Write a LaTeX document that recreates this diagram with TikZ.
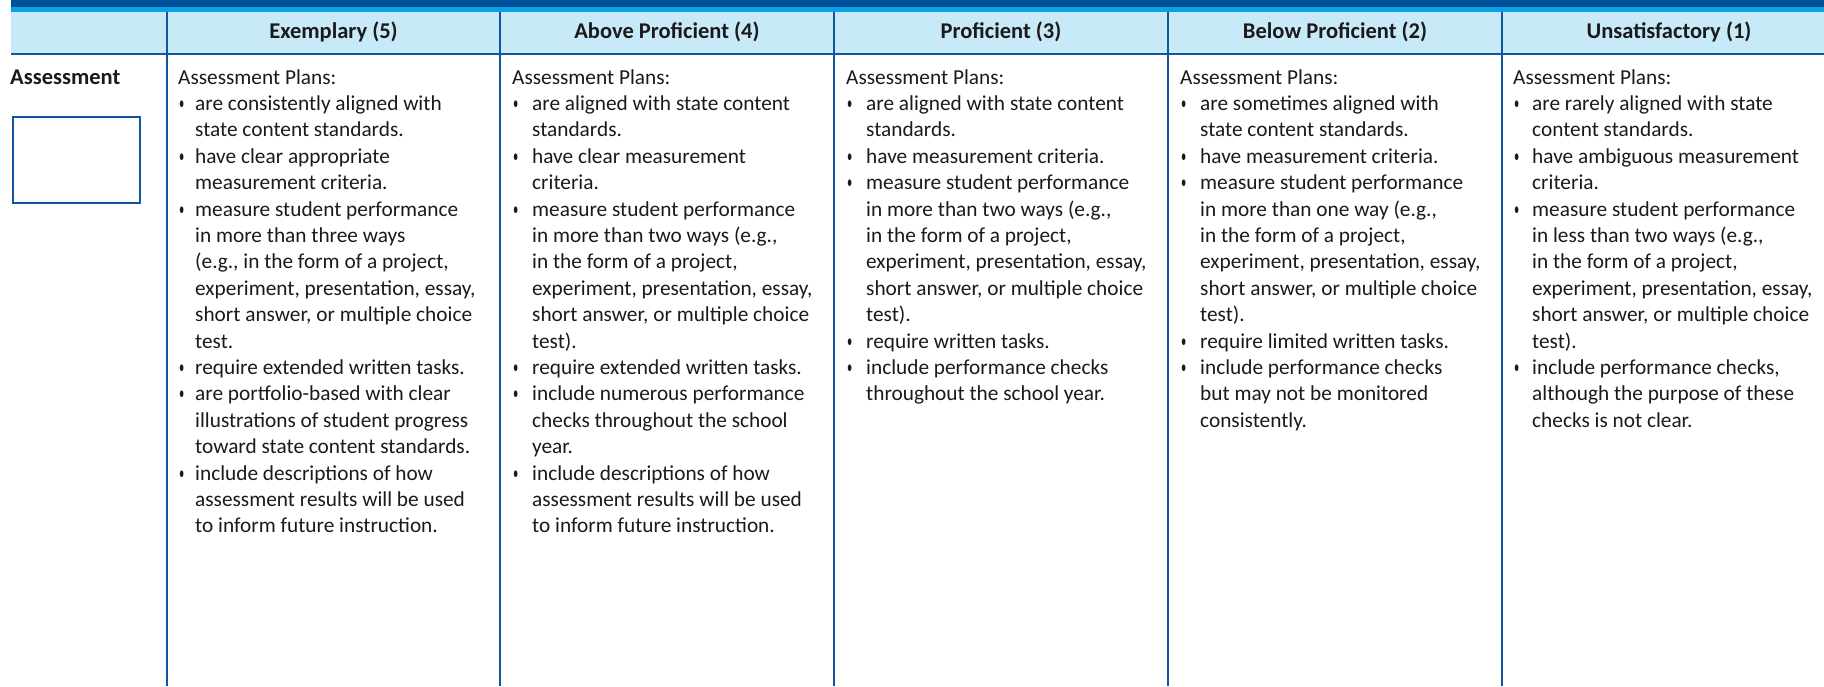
\documentclass[tikz,border=0pt]{standalone}
\usepackage{fontspec}
\setmainfont{Carlito}
\definecolor{topbar}{HTML}{00519A}
\definecolor{topstrip}{HTML}{0BA1E2}
\definecolor{headfill}{HTML}{C8E9F8}
\definecolor{rulecol}{HTML}{1057A3}
\definecolor{inkcol}{HTML}{1A1A1A}
\newlength\bulw
\setlength\bulw{20pt}
\newcommand\bulglyph{{\fontsize{15}{15}\selectfont\raisebox{1pt}{\scalebox{0.7}[1.25]{•}}}}
\newcommand\PL[1]{\hbox{#1}}
\newcommand\BL[1]{\hbox{\hbox to \bulw{\hskip1pt\bulglyph\hss}#1}}
\newcommand\CL[1]{\hbox{\hskip\bulw #1}}
\newcommand\colbody[1]{\vtop{\baselineskip=26.4pt\lineskiplimit=-100pt\lineskip=0pt #1}}
\begin{document}
\begin{tikzpicture}[x=1pt,y=-1pt,
  bodytext/.style={anchor=base west,inner sep=0pt,text=inkcol,font=\fontsize{21.3}{26.4}\selectfont},
  headtext/.style={anchor=center,inner sep=0pt,text=inkcol,font=\fontsize{22.5}{26}\selectfont\bfseries},
  rowlabel/.style={anchor=base west,inner sep=0pt,text=inkcol,font=\fontsize{22.5}{26}\selectfont\bfseries},
  divider/.style={draw=rulecol,line width=2pt},
  smallbox/.style={draw=rulecol,line width=2.5pt}]
\useasboundingbox (0,0) rectangle (1824,686);
% header band
\fill[headfill] (11,11) rectangle (1824,53);
\fill[topbar] (11,0) rectangle (1824,6.5);
\fill[topstrip] (11,6.5) rectangle (1824,11.5);
\draw[rulecol,line width=2.5pt] (11,54) -- (1824,54);
% column dividers
\foreach \xx in {167,500,834,1168,1502}{
  \draw[divider] (\xx,11.5) -- (\xx,686);
}
% header labels
\node[headtext] (h5) at (333.5,32) {Exemplary (5)};
\node[headtext] (h4) at (667,32) {Above Proficient (4)};
\node[headtext] (h3) at (1001,32) {Proficient (3)};
\node[headtext] (h2) at (1335,32) {Below Proficient (2)};
\node[headtext] (h1) at (1669,32) {Unsatisfactory (1)};
% row label and box
\node[rowlabel] (rowlab) at (10,84) {Assessment};
\draw[smallbox] (13,117) rectangle (140,203);
% column bodies
\node[bodytext] (c5) at (178,84) {\setlength\bulw{17pt}\colbody{%
\PL{Assessment Plans:}
\BL{are consistently aligned with}
\CL{state content standards.}
\BL{have clear appropriate}
\CL{measurement criteria.}
\BL{measure student performance}
\CL{in more than three ways}
\CL{(e.g., in the form of a project,}
\CL{experiment, presentation, essay,}
\CL{short answer, or multiple choice}
\CL{test.}
\BL{require extended written tasks.}
\BL{are portfolio-based with clear}
\CL{illustrations of student progress}
\CL{toward state content standards.}
\BL{include descriptions of how}
\CL{assessment results will be used}
\CL{to inform future instruction.}}};
\node[bodytext] (c4) at (512,84) {\colbody{%
\PL{Assessment Plans:}
\BL{are aligned with state content}
\CL{standards.}
\BL{have clear measurement}
\CL{criteria.}
\BL{measure student performance}
\CL{in more than two ways (e.g.,}
\CL{in the form of a project,}
\CL{experiment, presentation, essay,}
\CL{short answer, or multiple choice}
\CL{test).}
\BL{require extended written tasks.}
\BL{include numerous performance}
\CL{checks throughout the school}
\CL{year.}
\BL{include descriptions of how}
\CL{assessment results will be used}
\CL{to inform future instruction.}}};
\node[bodytext] (c3) at (846,84) {\colbody{%
\PL{Assessment Plans:}
\BL{are aligned with state content}
\CL{standards.}
\BL{have measurement criteria.}
\BL{measure student performance}
\CL{in more than two ways (e.g.,}
\CL{in the form of a project,}
\CL{experiment, presentation, essay,}
\CL{short answer, or multiple choice}
\CL{test).}
\BL{require written tasks.}
\BL{include performance checks}
\CL{throughout the school year.}}};
\node[bodytext] (c2) at (1180,84) {\colbody{%
\PL{Assessment Plans:}
\BL{are sometimes aligned with}
\CL{state content standards.}
\BL{have measurement criteria.}
\BL{measure student performance}
\CL{in more than one way (e.g.,}
\CL{in the form of a project,}
\CL{experiment, presentation, essay,}
\CL{short answer, or multiple choice}
\CL{test).}
\BL{require limited written tasks.}
\BL{include performance checks}
\CL{but may not be monitored}
\CL{consistently.}}};
\node[bodytext] (c1) at (1513,84) {\setlength\bulw{19pt}\colbody{%
\PL{Assessment Plans:}
\BL{are rarely aligned with state}
\CL{content standards.}
\BL{have ambiguous measurement}
\CL{criteria.}
\BL{measure student performance}
\CL{in less than two ways (e.g.,}
\CL{in the form of a project,}
\CL{experiment, presentation, essay,}
\CL{short answer, or multiple choice}
\CL{test).}
\BL{include performance checks,}
\CL{although the purpose of these}
\CL{checks is not clear.}}};
\end{tikzpicture}
\end{document}
